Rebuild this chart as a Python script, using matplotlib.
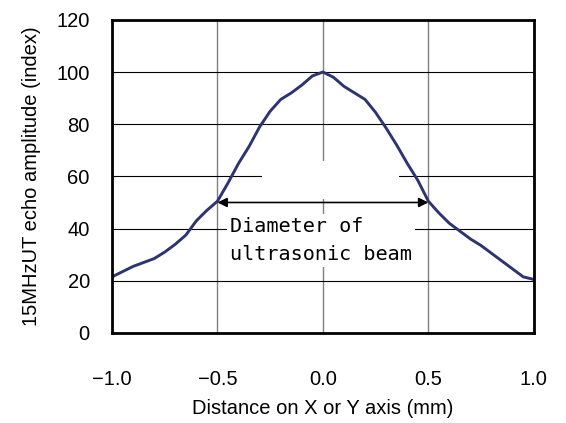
import matplotlib
matplotlib.use('Agg')
import matplotlib.pyplot as plt  # NOQA
from matplotlib.patches import Rectangle  # NOQA

# echo amplitude profile
distance = [-1.00, -0.95, -0.90, -0.85, -0.80, -0.75, -0.70, -0.65, -0.60,
            -0.55, -0.50, -0.45, -0.40, -0.35, -0.30, -0.25, -0.20, -0.15,
            -0.10, -0.05, 0.00, 0.05, 0.10, 0.15, 0.20, 0.25, 0.30, 0.35,
            0.40, 0.45, 0.50, 0.55, 0.60, 0.65, 0.70, 0.75, 0.80, 0.85,
            0.90, 0.95, 1.00]
amplitude = [21.5, 23.5, 25.5, 27.0, 28.5, 31.0, 34.0, 37.5, 43.0,
             47.0, 50.5, 57.5, 65.0, 71.5, 79.0, 85.0, 89.5, 92.0,
             95.0, 98.5, 100.0, 98.0, 94.5, 92.0, 89.5, 84.5, 78.5, 72.0,
             65.0, 58.5, 50.5, 46.0, 42.0, 39.0, 36.0, 33.5, 30.5, 27.5,
             24.5, 21.5, 20.5]

beam_edges = [-0.5, 0.5]
beam_level = 50

xticks = [-1.0, -0.5, 0.0, 0.5, 1.0]
yticks = [0, 20, 40, 60, 80, 100, 120]

plt.rcParams['font.family'] = ['Liberation Sans', 'DejaVu Sans']

fig = plt.figure(figsize=(5.66, 4.23), dpi=100)
ax = fig.add_axes([0.198, 0.213, 0.745, 0.740])

for x in xticks:
    ax.axvline(x, color='#808080', lw=1.0, zorder=1)
for y in yticks:
    ax.axhline(y, color='black', lw=0.8, zorder=1)

# white label boxes that hide the grid behind the annotation
ax.add_patch(Rectangle((-0.29, 51.5), 0.65, 14.5, facecolor='white',
                       edgecolor='none', zorder=2))
ax.text(-0.44, 44.5, 'Diameter of\nultrasonic beam', family='DejaVu Sans Mono',
        fontsize=14.5, va='top', ha='left', linespacing=1.6, zorder=3,
        bbox=dict(facecolor='white', edgecolor='none', pad=2))

ax.plot(distance, amplitude, color='#2d3470', lw=2.1, zorder=4)

ax.annotate('', xy=(beam_edges[0], beam_level), xytext=(beam_edges[1], beam_level),
            arrowprops=dict(arrowstyle='<|-|>', color='black', lw=1.2,
                            mutation_scale=14, shrinkA=0, shrinkB=0),
            zorder=5)

ax.set_xlim(-1.0, 1.0)
ax.set_ylim(0, 120)
ax.set_xticks(xticks)
ax.set_yticks(yticks)
ax.set_xticklabels(['\u22121.0', '\u22120.5', '0.0', '0.5', '1.0'])
ax.tick_params(length=0, labelsize=14.5)
ax.tick_params(axis='x', pad=27)
ax.tick_params(axis='y', pad=16)
for s in ax.spines.values():
    s.set_linewidth(2.0)
    s.set_zorder(6)

ax.set_xlabel('Distance on X or Y axis (mm)', fontsize=14.5, labelpad=7)
ax.set_ylabel('15MHzUT echo amplitude (index)', fontsize=14.5, labelpad=11)

fig.savefig('out.png', dpi=100)
plt.close(fig)
